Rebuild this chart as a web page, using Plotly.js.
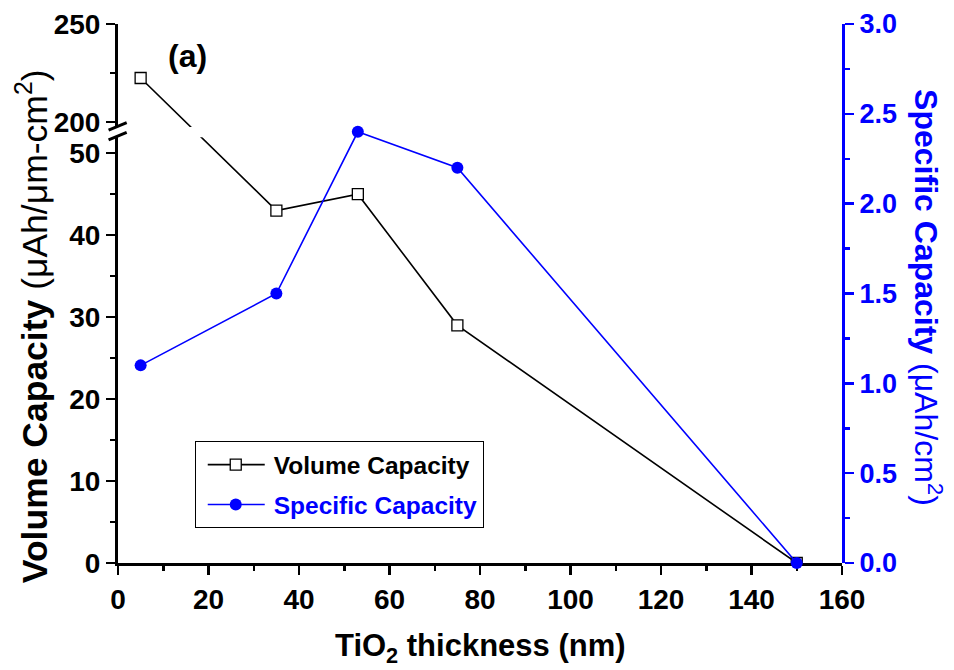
<!DOCTYPE html>
<html>
<head>
<meta charset="utf-8">
<script src="https://cdn.plot.ly/plotly-3.0.1.min.js"></script>
<style>html,body{margin:0;padding:0;background:#fff;}</style>
</head>
<body>
<div id="chart" style="width:954px;height:670px;"></div>
<script>
// ---- data ----
const thickness = [5, 35, 53, 75, 150];            // TiO2 thickness (nm)
const volumeCapacity = [222.4, 43, 45, 29, 0];      // µAh/µm-cm2
const specificCapacity = [1.1, 1.5, 2.4, 2.2, 0];   // µAh/cm2
const xTicks = [0, 20, 40, 60, 80, 100, 120, 140, 160];

// ---- broken left axis geometry ----
const LOW = {range: [0, 51.95], domain: [0, 0.790]};
const UP  = {range: [197.4, 250], domain: [0.809, 1]};
function toPaper(v, ax) {
  return ax.domain[0] + (v - ax.range[0]) / (ax.range[1] - ax.range[0]) * (ax.domain[1] - ax.domain[0]);
}
function fromPaper(p, ax) {
  return ax.range[0] + (p - ax.domain[0]) / (ax.domain[1] - ax.domain[0]) * (ax.range[1] - ax.range[0]);
}
const volLow = volumeCapacity.map(v => v > LOW.range[1] ? fromPaper(toPaper(v, UP), LOW) : v);
const volUp  = volumeCapacity.map(v => v < UP.range[0] ? fromPaper(toPaper(v, LOW), UP) : v);

const FONT = 'Arial, "Liberation Sans", sans-serif';
const BLUE = '#0000ff';

const volMarker = {symbol: 'square', size: 11, color: '#ffffff', line: {color: '#000000', width: 1.3}};
const traces = [
  {x: thickness, y: volUp, xaxis: 'x', yaxis: 'y3', mode: 'lines+markers',
   line: {color: '#000', width: 1.6}, marker: volMarker, showlegend: false, cliponaxis: true},
  {x: thickness, y: volLow, xaxis: 'x', yaxis: 'y', mode: 'lines+markers', name: 'Volume Capacity',
   legendgroup: 'a', line: {color: '#000', width: 1.6}, marker: volMarker, cliponaxis: true},
  {x: thickness, y: specificCapacity, xaxis: 'x', yaxis: 'y2', mode: 'lines+markers',
   name: '<span style="color:#0000ff">Specific Capacity</span>', legendgroup: 'b',
   line: {color: BLUE, width: 1.6}, marker: {symbol: 'circle', size: 12, color: BLUE}, cliponaxis: false}
];

const tickFont = {family: FONT, size: 28, color: '#000', weight: 'bold'};
const layout = {
  width: 954, height: 670,
  margin: {l: 118, r: 112, t: 24, b: 107},
  paper_bgcolor: '#ffffff', plot_bgcolor: 'rgba(0,0,0,0)',
  showlegend: true,
  legend: {x: 0.106, y: 0.226, xanchor: 'left', yanchor: 'top', bgcolor: '#fff',
           bordercolor: '#000', borderwidth: 1, itemwidth: 68, traceorder: 'grouped', tracegroupgap: 5,
           font: {family: FONT, size: 24.5, color: '#000', weight: 'bold'}},
  xaxis: {range: [0, 160], tickvals: xTicks, ticks: 'outside', ticklen: 9, tickwidth: 2.5, tickcolor: '#000',
          showline: true, linewidth: 3, linecolor: '#000', showgrid: false, zeroline: false,
          tickfont: tickFont, anchor: 'y',
          minor: {dtick: 10, ticks: 'outside', ticklen: 5, tickwidth: 2.5, tickcolor: '#000'}},
  xaxis2: {range: [0, 160], overlaying: 'x', side: 'top', anchor: 'y3', showticklabels: false,
           ticks: 'outside', ticklen: 3, tickwidth: 2, tickcolor: '#000', dtick: 10,
           showline: true, linewidth: 3, linecolor: '#000', showgrid: false, zeroline: false},
  yaxis: {range: LOW.range, domain: LOW.domain, dtick: 10, ticks: 'outside', ticklen: 9, tickwidth: 2.5,
          tickcolor: '#000', showline: true, linewidth: 3, linecolor: '#000', showgrid: false, zeroline: false,
          tickfont: tickFont, anchor: 'x',
          minor: {dtick: 5, ticks: 'outside', ticklen: 5, tickwidth: 2.5, tickcolor: '#000'}},
  yaxis3: {range: UP.range, domain: UP.domain, tickvals: [200, 250], ticks: 'outside', ticklen: 9, tickwidth: 2.5,
           tickcolor: '#000', showline: true, linewidth: 3, linecolor: '#000', showgrid: false, zeroline: false,
           tickfont: tickFont, anchor: 'x',
           minor: {tickvals: [225], ticks: 'outside', ticklen: 5, tickwidth: 2.5, tickcolor: '#000'}},
  yaxis2: {range: [0, 3.0], domain: [0, 1], side: 'right', anchor: 'x', dtick: 0.5, tickformat: '.1f',
           ticks: 'outside', ticklen: 9, tickwidth: 2.5, tickcolor: BLUE,
           showline: true, linewidth: 3, linecolor: BLUE, showgrid: false, zeroline: false,
           tickfont: {family: FONT, size: 27, color: BLUE, weight: 'bold'},
           minor: {dtick: 0.25, ticks: 'outside', ticklen: 5, tickwidth: 2.5, tickcolor: BLUE}},
  annotations: [
    {text: '<b>Volume Capacity</b> (μAh/μm-cm<sup>2</sup>)', xref: 'paper', yref: 'paper',
     x: -0.117, y: 0.44, xanchor: 'center', yanchor: 'middle', textangle: -90, showarrow: false,
     font: {family: FONT, size: 35.5, color: '#000'}},
    {text: '<b>Specific Capacity</b> (μAh/cm<sup>2</sup>)', xref: 'paper', yref: 'paper',
     x: 1.119, y: 0.493, xanchor: 'center', yanchor: 'middle', textangle: 90, showarrow: false,
     font: {family: FONT, size: 32, color: BLUE}},
    {text: '<b>TiO<sub>2</sub> thickness (nm)</b>', xref: 'paper', yref: 'paper',
     x: 0.5, y: -0.158, xanchor: 'center', yanchor: 'middle', showarrow: false,
     font: {family: FONT, size: 31, color: '#000'}},
    {text: '<b>(a)</b>', xref: 'paper', yref: 'paper', x: 0.096, y: 0.94,
     xanchor: 'center', yanchor: 'middle', showarrow: false,
     font: {family: FONT, size: 32, color: '#000'}}
  ],
  shapes: [
    {type: 'line', xref: 'paper', yref: 'paper', x0: -0.013, y0: 0.803, x1: 0.012, y1: 0.817,
     line: {color: '#000', width: 3}},
    {type: 'line', xref: 'paper', yref: 'paper', x0: -0.013, y0: 0.785, x1: 0.012, y1: 0.799,
     line: {color: '#000', width: 3}}
  ]
};

Plotly.newPlot('chart', traces, layout, {displayModeBar: false, staticPlot: true}).then(function (gd) {
  // lengthen the legend line samples and centre the symbols on them (Origin-style legend)
  gd.querySelectorAll('.legend .legendlines path').forEach(function (p) {
    p.setAttribute('d', 'M12,0h57');
  });
  gd.querySelectorAll('.legend .legendpoints path').forEach(function (p) {
    p.setAttribute('transform', 'translate(40,0)');
  });
});
</script>
</body>
</html>
